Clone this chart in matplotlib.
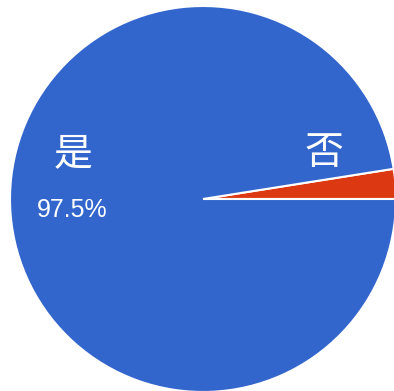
import matplotlib.pyplot as plt

plt.rcParams['font.family'] = ['Noto Sans CJK SC', 'DejaVu Sans']

# Datos de la encuesta
categorias = ['否', '是']
porcentajes = [2.5, 97.5]
colores = ['#DC3912', '#3366CC']

fig = plt.figure(figsize=(3.94, 3.91), dpi=100)
ax = fig.add_axes([0, 0, 1, 1])

# Pastel grande, recortado por el borde derecho
cx, cy, r = 203, 192, 193
ax.pie(porcentajes, colors=colores, startangle=0, counterclock=True,
       center=(cx, cy), radius=r,
       wedgeprops=dict(edgecolor='white', linewidth=1.5))

# Etiquetas dentro del pastel
ax.text(324, 391 - 153, categorias[0], color='white', fontsize=28,
        ha='center', va='center')
ax.text(73, 391 - 154, categorias[1], color='white', fontsize=28,
        ha='center', va='center')
ax.text(72, 391 - 210, f'{porcentajes[1]}%', color='white', fontsize=18,
        family=['Liberation Sans', 'DejaVu Sans'], ha='center', va='center')

ax.set_xlim(0, 394)
ax.set_ylim(0, 391)
ax.set_aspect('equal')
ax.axis('off')

fig.savefig('out.png', dpi=100)
